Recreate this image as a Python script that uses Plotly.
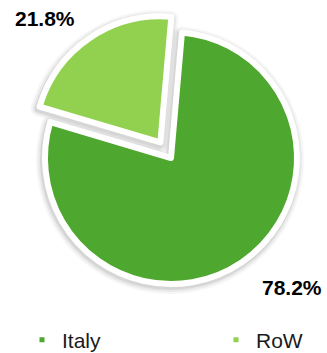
import plotly.graph_objects as go

# Market split data
regions = ["Italy", "RoW"]
shares = [78.2, 21.8]
pulls = [0.0, 0.15]
colors = ["#4ea72e", "#92d050"]

W, H = 327, 353
FONT = "Liberation Sans, Arial, sans-serif"

# pie geometry (pixels): centre, slice radius and start angle
cx, cy, radius = 171, 158, 126
side = 2 * radius * (1 + max(pulls))
start_angle = 5


def domain(dx=0, dy=0):
    x0 = (cx - side / 2 + dx) / W
    x1 = (cx + side / 2 + dx) / W
    y0 = 1 - (cy + side / 2 + dy) / H
    y1 = 1 - (cy - side / 2 + dy) / H
    return dict(x=[x0, x1], y=[y0, y1])


fig = go.Figure()

# soft drop shadow: a few translucent layers behind the slices
for width, alpha in [(16, 0.035), (12, 0.05), (8, 0.08)]:
    shade = f"rgba(0,0,0,{alpha})"
    fig.add_trace(go.Pie(
        labels=regions, values=shares, pull=pulls, sort=False,
        direction="clockwise", rotation=start_angle,
        marker=dict(colors=[shade, shade], line=dict(color=shade, width=width)),
        textinfo="none", hoverinfo="skip", showlegend=False,
        domain=domain(-1, 2),
    ))

# the slices themselves with a white rim
fig.add_trace(go.Pie(
    labels=regions, values=shares, pull=pulls, sort=False,
    direction="clockwise", rotation=start_angle,
    marker=dict(colors=colors, line=dict(color="white", width=6)),
    textinfo="none", showlegend=False,
    domain=domain(),
))

# legend entries with small square keys, one legend box per region
legend_names = ["legend", "legend2"]
for name, col, lg in zip(regions, colors, legend_names):
    fig.add_trace(go.Scatter(
        x=[None], y=[None], mode="markers", name=name, legend=lg,
        marker=dict(symbol="square", size=5, color=col),
    ))

# percentage labels outside the slices
label_pos = {"Italy": (292, 287), "RoW": (45, 19)}
for name, val in zip(regions, shares):
    px, py = label_pos[name]
    fig.add_annotation(
        x=px / W, y=1 - py / H, xref="paper", yref="paper",
        xanchor="center", yanchor="middle", showarrow=False,
        text=f"<b>{val:.1f}%</b>",
        font=dict(family=FONT, size=21, color="#000000"),
    )

legend_style = dict(
    orientation="h", yanchor="middle", xanchor="left", y=1 - 340 / H,
    font=dict(family=FONT, size=21, color="#1a1a1a"),
    bgcolor="rgba(0,0,0,0)",
)

fig.update_layout(
    width=W, height=H,
    margin=dict(l=0, r=0, t=0, b=0, autoexpand=False),
    paper_bgcolor="white", plot_bgcolor="white",
    xaxis=dict(visible=False), yaxis=dict(visible=False),
    legend=dict(x=22 / W, **legend_style),
    legend2=dict(x=216 / W, **legend_style),
    showlegend=True,
)

fig.write_html("out.html")
